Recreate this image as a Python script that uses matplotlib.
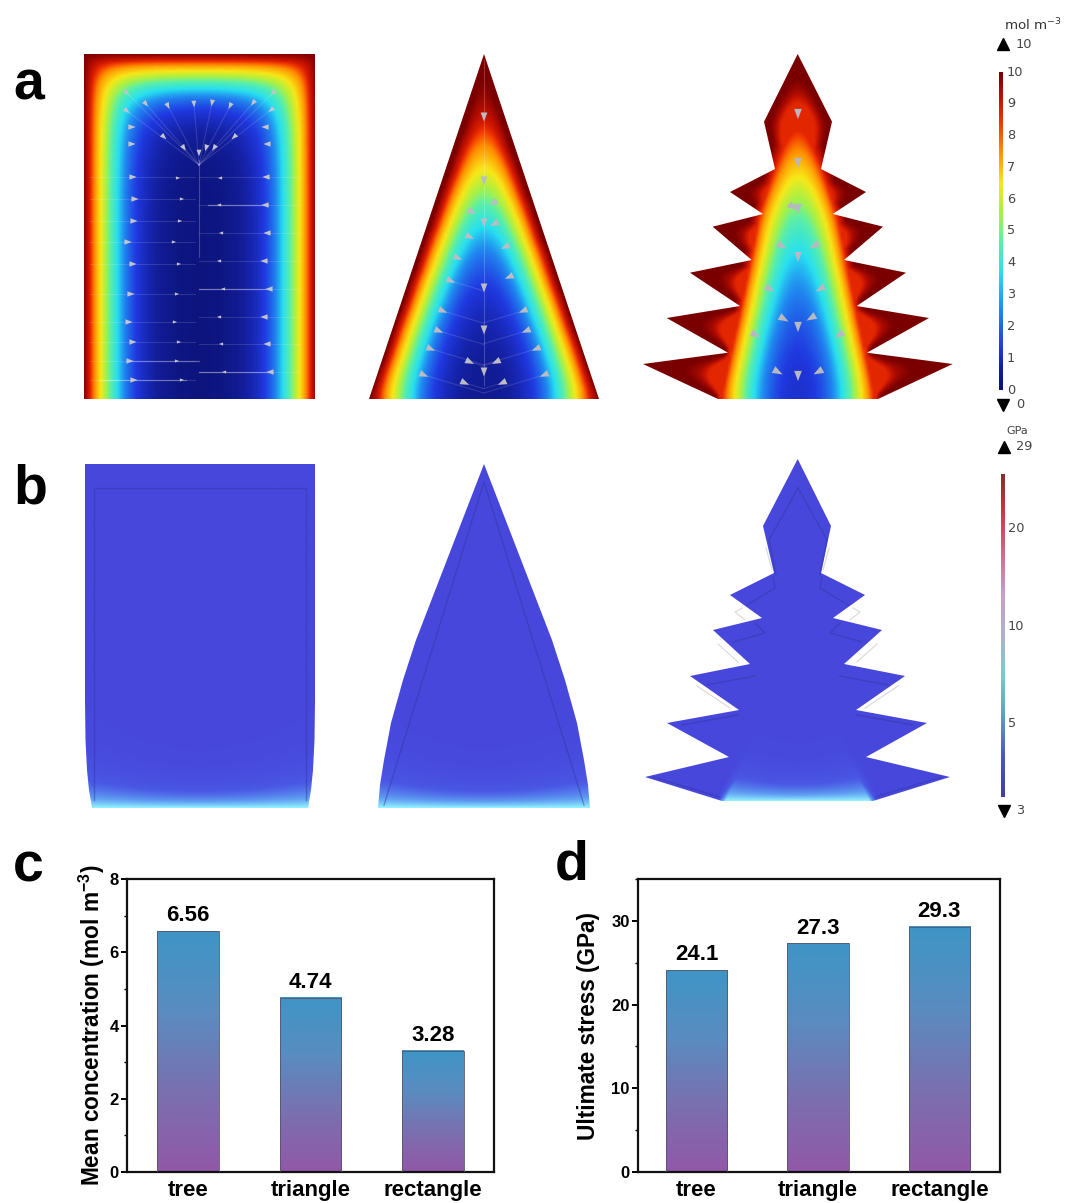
#!/usr/bin/python3
import numpy as np
import matplotlib
matplotlib.use('Agg')
import matplotlib.pyplot as plt
from matplotlib.path import Path
from matplotlib.patches import Polygon
from matplotlib.colors import LinearSegmentedColormap
from matplotlib.ticker import MultipleLocator

plt.rcParams['font.family'] = ['Liberation Sans', 'DejaVu Sans']
plt.rcParams['mathtext.fontset'] = 'custom'
plt.rcParams['mathtext.rm'] = 'DejaVu Sans'
plt.rcParams['mathtext.bf'] = 'Liberation Sans:bold'

# bar panels
categories = ['tree', 'triangle', 'rectangle']
mean_conc = [6.56, 4.74, 3.28]
conc_labels = ['6.56', '4.74', '3.28']
conc_bar_tops = [6.58, 4.76, 3.31]
ultimate_stress = [24.1, 27.3, 29.3]
stress_labels = ['24.1', '27.3', '29.3']

# colour bars
conc_ticks = [0, 1, 2, 3, 4, 5, 6, 7, 8, 9, 10]
stress_ticks = [5, 10, 20]

# geometries, image pixels
rect_a = [(84, 54), (315, 54), (315, 399), (84, 399)]
tri_a = [(369, 399), (484, 54), (599, 399)]
tri_core = [(369, 399), (484, 72), (599, 399)]
tree_a_x = [797.7, 832, 821, 866, 832.7, 883, 844, 906, 856.7, 929, 867, 952.7, 878,
            718, 643, 728, 666.7, 740, 690, 751.7, 712.7, 763, 730, 775, 764]
tree_a_y = [54, 121.7, 169, 192, 214, 226.7, 260, 272.7, 306, 318, 352.7, 364, 399,
            399, 364, 352.7, 318, 306, 272.7, 260, 226.7, 214, 192, 169, 121.7]
# smooth core of the tree, the teeth sit outside it at wall value
tree_core_x = [798, 844, 852, 863, 882, 714, 733, 744, 752]
tree_core_y = [70, 214, 260, 315, 399, 399, 315, 260, 214]
rect_b_x = [85, 315, 315, 314.5, 313, 311, 308, 92, 89, 87, 85.5, 85]
rect_b_y = [464, 464, 700, 740, 770, 790, 808, 808, 790, 770, 740, 700]
tri_b_x = [484, 552, 565, 577, 584, 588, 590, 378, 380, 384, 391, 403, 416]
tri_b_y = [464, 640, 680, 723, 760, 785, 808, 808, 785, 760, 723, 680, 640]
tree_b_x = [797.7, 831, 821, 865, 833, 882, 844, 905, 856, 927, 866, 950, 873,
            722, 645, 729, 667, 739, 690, 750, 713, 762, 730, 774, 763]
tree_b_y = [459, 526, 573, 595, 618, 630, 664, 676, 710, 723, 757, 777, 801,
            801, 777, 757, 723, 710, 676, 664, 630, 618, 595, 573, 526]

# flux arrows of panel a, rectangle
rect_wall_lx = [132, 132, 133, 135, 134, 128, 133, 131, 129, 133, 130, 134]
rect_wall_ly = [127, 144, 177, 199, 221, 242, 264, 294, 322, 342, 361, 380]
rect_in_lx = [178, 182, 180, 174, 179, 177, 175, 179, 177, 182]
rect_in_ly = [178, 199, 221, 242, 264, 294, 322, 342, 361, 380]
rect_wall_rx = [265, 267, 266, 265, 267, 264, 269, 264, 267, 270]
rect_wall_ry = [127, 144, 177, 205, 233, 261, 289, 317, 344, 372]
rect_in_rx = [220, 219, 221, 219, 223, 219, 221, 224]
rect_in_ry = [178, 205, 233, 261, 289, 317, 344, 372]
rect_top_x = [127, 146, 168, 194, 212, 230, 253, 273, 127, 271, 164, 184, 199, 206, 214, 234]
rect_top_y = [93, 104, 106, 104, 103, 106, 103, 93, 111, 110, 137, 148, 153, 148, 148, 137]
# flux arrows, triangle
tri_arrow_x = [484, 484, 493, 472, 484, 494, 470, 505, 458, 509, 451, 484, 443, 523, 484, 439,
               526, 431, 536, 470, 496, 424, 544, 465, 502, 484]
tri_arrow_y = [117, 181, 203, 212, 223, 224, 237, 247, 258, 277, 281, 288, 311, 311, 330, 331,
               331, 349, 349, 362, 362, 375, 375, 383, 383, 372]
# flux arrows, tree
tree_arrow_x = [798, 798, 793, 798, 782, 814, 798, 770, 820, 784, 811, 798, 756, 839, 778, 818, 798]
tree_arrow_y = [114, 163, 207, 209, 246, 246, 257, 289, 289, 319, 318, 327, 335, 335, 372, 372, 376]

W, H = 1065, 1203
L = 28.0
profile_d = [0, 6, 11, 17, 23, 27, 34, 41, 53, 76, 96, 400]
profile_c = [10, 8.9, 7.5, 6.5, 5.5, 4.6, 3.7, 2.5, 1.3, 0.6, 0.2, 0]

conc_cmap = LinearSegmentedColormap.from_list('conc', [
    (0, '#0c1276'), (0.06, '#121c96'), (0.13, '#2038e0'), (0.25, '#2088f0'), (0.37, '#28e0f0'),
    (0.47, '#60f0a0'), (0.57, '#b0f040'), (0.65, '#f8e818'), (0.75, '#ff9000'), (0.85, '#f03000'),
    (0.92, '#c01000'), (1, '#7a0000')])


def solve_field(poly, ybase, outer, h=2.5, steps=2600):
    # screened diffusion with fixed wall value, no flux through the base
    poly = np.array(poly, dtype=float)
    outer = np.array(outer, dtype=float)
    xs = np.arange(outer[:, 0].min() - 4, outer[:, 0].max() + 4, h)
    ys = np.arange(ybase - 1, outer[:, 1].min() - 4, -h)[::-1]
    gx, gy = np.meshgrid(xs, ys)
    inside = Path(poly).contains_points(np.c_[gx.ravel(), gy.ravel()]).reshape(gx.shape)
    u = np.where(inside, 0.0, 1.0)
    k = h * h / (L * L)
    for _ in range(steps):
        p = np.pad(u, 1, mode='edge')
        new = (p[:-2, 1:-1] + p[2:, 1:-1] + p[1:-1, :-2] + p[1:-1, 2:]) / (4 + k)
        u = np.where(inside, new, 1.0)
    c = np.interp(u, np.exp(-np.array(profile_d, dtype=float) / L)[::-1], profile_c[::-1])
    return c, (xs[0], xs[-1], ybase, ys[0])


def arrowheads(ax, xs, ys, tx, ty, size, color='#c4c4cc'):
    # little triangles pointing at the target
    for x, y, t_x, t_y in zip(xs, ys, tx, ty):
        d = np.array([t_x - x, t_y - y], dtype=float)
        d = d / max(np.hypot(*d), 1e-6)
        n = np.array([-d[1], d[0]])
        p = np.array([x, y])
        ax.fill(*zip(p + d * size * 0.6, p - d * size * 0.6 + n * size * 0.45,
                     p - d * size * 0.6 - n * size * 0.45), color=color, lw=0, zorder=5)


fig = plt.figure(figsize=(W / 100, H / 100), dpi=100)
ov = fig.add_axes([0, 0, 1, 1])
ov.axis('off')

tree_a = list(zip(tree_a_x, tree_a_y))
tree_core = list(zip(tree_core_x, tree_core_y))
for poly, clip in ((rect_a, rect_a), (tri_core, tri_a)):
    field, ext = solve_field(poly, 399, clip)
    im = ov.imshow(field, cmap=conc_cmap, vmin=0, vmax=10, extent=ext, aspect='auto',
                   interpolation='bilinear', zorder=2)
    im.set_clip_path(Polygon(clip, transform=ov.transData))

# tree: smooth core below, real outline for the rim of teeth and crown
field_core, ext = solve_field(tree_core, 399, tree_a)
field_real, ext = solve_field(tree_a, 399, tree_a)
field = np.minimum(field_core, np.maximum(field_real + 0.6, 8.7))
im = ov.imshow(field, cmap=conc_cmap, vmin=0, vmax=10, extent=ext, aspect='auto',
               interpolation='bilinear', zorder=2)
im.set_clip_path(Polygon(tree_a, transform=ov.transData))

# streamlines, rectangle
line_kw = dict(color='white', alpha=0.13, lw=0.8, zorder=4)
ov.plot([199, 199], [160, 257], color='white', alpha=0.22, lw=0.8, zorder=4)
for yy in rect_wall_ly[2:]:
    ov.plot([90, 195], [yy, yy], **line_kw)
for yy in rect_wall_ry[2:]:
    ov.plot([199, 300], [yy, yy], **line_kw)
for yy, x0 in zip([205, 289, 372], [208, 199, 199]):
    ov.plot([x0, 268], [yy, yy], color='white', alpha=0.35, lw=0.9, zorder=4)
ov.plot([127, 199], [361, 361], color='white', alpha=0.3, lw=0.9, zorder=4)
ov.plot([100, 186], [380, 380], color='white', alpha=0.3, lw=0.9, zorder=4)
for x, y in zip(rect_top_x[:10], rect_top_y[:10]):
    ov.plot([x, 199], [y, 165], **line_kw)
# streamlines, triangle
ov.plot([484, 484], [60, 385], color='white', alpha=0.2, lw=0.8, zorder=4)
for x, y in zip(tri_arrow_x[10:], tri_arrow_y[10:]):
    ov.plot([x, 484], [y, y + 0.3 * abs(x - 484)], **line_kw)

arrowheads(ov, rect_wall_lx, rect_wall_ly, [199] * 12, rect_wall_ly, 6)
arrowheads(ov, rect_wall_rx, rect_wall_ry, [199] * 10, rect_wall_ry, 6)
arrowheads(ov, rect_in_lx, rect_in_ly, [199] * 10, rect_in_ly, 3.5)
arrowheads(ov, rect_in_rx, rect_in_ry, [199] * 8, rect_in_ry, 3.5)
arrowheads(ov, rect_top_x, rect_top_y, [199] * 16, [170] * 16, 5.5)
arrowheads(ov, tri_arrow_x, tri_arrow_y, [484] * 26,
           [y + 0.4 * abs(x - 484) + 1 for x, y in zip(tri_arrow_x, tri_arrow_y)], 7.5, color='#bcbcc4')
arrowheads(ov, tree_arrow_x, tree_arrow_y, [798] * 17,
           [y + 0.5 * abs(x - 798) + 1 for x, y in zip(tree_arrow_x, tree_arrow_y)], 8.5, color='#b8b8c0')

# colour bar a
grad = np.linspace(10, 0, 256).reshape(-1, 1)
ov.imshow(grad, cmap=conc_cmap, vmin=0, vmax=10, extent=(999, 1003, 390, 72), aspect='auto', zorder=2)
for t in conc_ticks:
    ov.text(1007, 390 - t * 31.8, str(t), fontsize=9.3, family='DejaVu Sans', color='#444444',
            ha='left', va='center')
ov.text(1004, 25, 'mol m$^{-3}$', fontsize=9.6, family='DejaVu Sans', color='#333333', ha='left', va='center')
ov.plot([1003], [44], marker='^', ms=8, color='black', lw=0)
ov.text(1016, 44, '10', fontsize=9.3, family='DejaVu Sans', color='#444444', ha='left', va='center')
ov.plot([1003], [405], marker='v', ms=8, color='black', lw=0)
ov.text(1016, 405, '0', fontsize=9.3, family='DejaVu Sans', color='#444444', ha='left', va='center')

# panel b, deformed shapes
stress_cmap = LinearSegmentedColormap.from_list('stress', ['#4747dc', '#4a58e4', '#5f9df2', '#93f2ff'])
shapes_b = [(list(zip(rect_b_x, rect_b_y)), 808, 85, 315),
            (list(zip(tri_b_x, tri_b_y)), 808, 378, 590),
            (list(zip(tree_b_x, tree_b_y)), 801, 645, 950)]
for poly, yb, xl, xr in shapes_b:
    xx, yy = np.meshgrid(np.linspace(xl, xr, 300), np.linspace(458, yb, 360))
    mid = (xl + xr) / 2
    half = (xr - xl) / 2
    if xr > 900:
        half = 80
    # bright foot, a little taller towards the corners
    scale = 15 + 10 * np.clip(np.abs(xx - mid) / half, 0, 1) ** 2
    t = np.exp(-(yb - yy) / scale)
    if xr > 900:
        edge = 72 - (yb - yy) * 0.5
        t = t * np.clip(1 - (np.abs(xx - mid) - edge) / 10, 0, 1)
    im = ov.imshow(t, cmap=stress_cmap, vmin=0, vmax=1, extent=(xl, xr, yb, 458), aspect='auto',
                   interpolation='bilinear', zorder=2)
    im.set_clip_path(Polygon(poly, transform=ov.transData))

dark = dict(color='#34349f', alpha=0.45, lw=1.0, zorder=4)
ov.plot([94, 94, 306, 306], [800, 488, 488, 800], **dark)
ov.plot([384, 484, 584], [805, 482, 805], **dark)
ov.plot([798, 827, 820], [488, 540, 575], **dark)
ov.plot([798, 769, 776], [488, 540, 575], **dark)
for xs_, ys_ in [([773, 775, 747], [577, 588, 605]), ([755, 765, 733], [623, 633, 642]),
                 ([755, 707], [676, 685]), ([738, 682], [715, 725]), ([653, 720], [777, 797])]:
    ov.plot(xs_, ys_, **dark)
    ov.plot([1595 - x for x in xs_], ys_, **dark)
pale = dict(color='#d8d8de', lw=0.8, zorder=1)
for xs_, ys_ in [([742, 735, 745], [608, 612, 620]), ([718, 738], [644, 662]), ([697, 730], [686, 708]),
                 ([766, 772], [548, 570])]:
    ov.plot(xs_, ys_, **pale)
    ov.plot([1595 - x for x in xs_], ys_, **pale)

# colour bar b, log spaced
bar_cmap = LinearSegmentedColormap.from_list(
    'bar_b', ['#3f3fa8', '#4a58c0', '#5aa0c8', '#70d0c8', '#b0b0c8', '#c8a0cc', '#d86a90', '#c83c4a', '#8e2b2b'])
ov.imshow(np.linspace(1, 0, 256).reshape(-1, 1), cmap=bar_cmap, extent=(1001, 1005, 797, 474), aspect='auto', zorder=2)
for t in stress_ticks:
    ov.text(1008, 626 - np.log10(t / 10) * 325, str(t), fontsize=9.3, family='DejaVu Sans', color='#444444',
            ha='left', va='center')
ov.text(1017, 431, 'GPa', fontsize=8, family='DejaVu Sans', color='#444444', ha='center', va='center')
ov.plot([1004], [447], marker='^', ms=8, color='black', lw=0)
ov.text(1016, 447, '29', fontsize=9.3, family='DejaVu Sans', color='#444444', ha='left', va='center')
ov.plot([1004], [811], marker='v', ms=8, color='black', lw=0)
ov.text(1016, 811, '3', fontsize=9.3, family='DejaVu Sans', color='#444444', ha='left', va='center')

# panel letters
for letter, lx, ly in [('a', 13, 100), ('b', 13, 503), ('c', 13, 881), ('d', 555, 880)]:
    ov.text(lx, ly, letter, fontsize=40, fontweight='bold', ha='left', va='baseline')

ov.set_xlim(0, W)
ov.set_ylim(H, 0)

bar_cmap_grad = LinearSegmentedColormap.from_list('bar_grad', ['#9258a8', '#7a70b0', '#5a8cc0', '#3f95c6'])


def bar_panel(box, values, labels, tops, ymax, major, minor, xleft, ylabel, label_x):
    l, r, t, b = box
    ax = fig.add_axes([l / W, 1 - b / H, (r - l) / W, (b - t) / H])
    xpos = np.arange(len(categories))
    bars = ax.bar(xpos, tops, width=0.505, color='none', edgecolor='#55556a', lw=0.6, zorder=3)
    for rect_ in bars:
        x0, w = rect_.get_x(), rect_.get_width()
        ax.imshow(np.linspace(1, 0, 128).reshape(-1, 1), cmap=bar_cmap_grad, aspect='auto',
                  extent=(x0, x0 + w, 0, rect_.get_height()), zorder=2)
    for x, top, txt in zip(xpos, tops, labels):
        ax.annotate(txt, (x, top), xytext=(0, 3.5), textcoords='offset points', ha='center', va='bottom',
                    fontsize=16, fontweight='bold')
    ax.set_xlim(xleft, 2.5)
    ax.set_ylim(0, ymax)
    ax.set_xticks(xpos, categories)
    ax.yaxis.set_major_locator(MultipleLocator(major))
    ax.yaxis.set_minor_locator(MultipleLocator(minor))
    ax.tick_params(axis='x', length=0, pad=6, labelsize=16)
    ax.tick_params(axis='y', which='major', length=4.5, width=1.4, labelsize=12, pad=1.5)
    ax.tick_params(axis='y', which='minor', length=2.5, width=1.0)
    for lab in ax.get_xticklabels() + ax.get_yticklabels():
        lab.set_fontweight('bold')
    for s in ax.spines.values():
        s.set_linewidth(1.6)
        s.set_color('#111111')
    ax.set_ylabel(ylabel, fontsize=16.3, fontweight='bold', va='center')
    ax.yaxis.set_label_coords((label_x - l) / (r - l), 0.5)
    return ax


bar_panel((127, 494, 879, 1172), mean_conc, conc_labels, conc_bar_tops, 8, 2, 1, -0.5,
          r'Mean concentration (mol m$^{\mathbf{-3}}$)', 92)
bar_panel((638, 1000, 879, 1172), ultimate_stress, stress_labels, ultimate_stress, 35, 10, 5, -0.483,
          'Ultimate stress (GPa)', 589)

plt.savefig('out.png', dpi=100)
